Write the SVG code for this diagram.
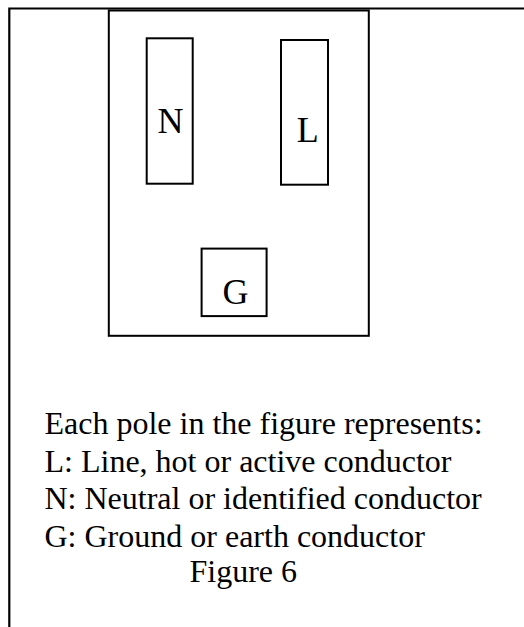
<svg xmlns="http://www.w3.org/2000/svg" width="524" height="627" viewBox="0 0 524 627">
  <style>
    .box { fill: #ffffff; stroke: #000000; stroke-width: 2; }
    .frame { fill: none; stroke: #000000; stroke-width: 2.2; }
    .pole { font-family: "Liberation Serif", "Times New Roman", serif; font-size: 36px; fill: #000000; }
    .caption { font-family: "Liberation Serif", "Times New Roman", serif; font-size: 32px; fill: #000000; }
  </style>
  <rect x="0" y="0" width="524" height="627" fill="#ffffff"/>
  <g id="frame">
    <polyline class="frame" points="9.3,627 9.3,8.5 524,8.5"/>
  </g>
  <g id="socket">
    <rect class="box" x="108.8" y="10.5" width="260" height="325.3"/>
  </g>
  <g id="pole-N">
    <rect class="box" x="146.7" y="38.3" width="46" height="145.4"/>
    <text class="pole" x="170.5" y="132.5" text-anchor="middle">N</text>
  </g>
  <g id="pole-L">
    <rect class="box" x="281" y="40" width="47" height="144.7"/>
    <text class="pole" x="296.8" y="141.5">L</text>
  </g>
  <g id="pole-G">
    <rect class="box" x="201.6" y="248.6" width="65" height="67.5"/>
    <text class="pole" x="235.5" y="304" text-anchor="middle">G</text>
  </g>
  <g id="connectors"></g>
  <g id="legend">
    <text class="caption" x="44.5" y="434">Each pole in the figure represents:</text>
    <text class="caption" x="44.5" y="471.5">L: Line, hot or active conductor</text>
    <text class="caption" x="44.5" y="509">N: Neutral or identified conductor</text>
    <text class="caption" x="44.5" y="546.5">G: Ground or earth conductor</text>
    <text class="caption" x="189.5" y="582">Figure 6</text>
  </g>
</svg>
